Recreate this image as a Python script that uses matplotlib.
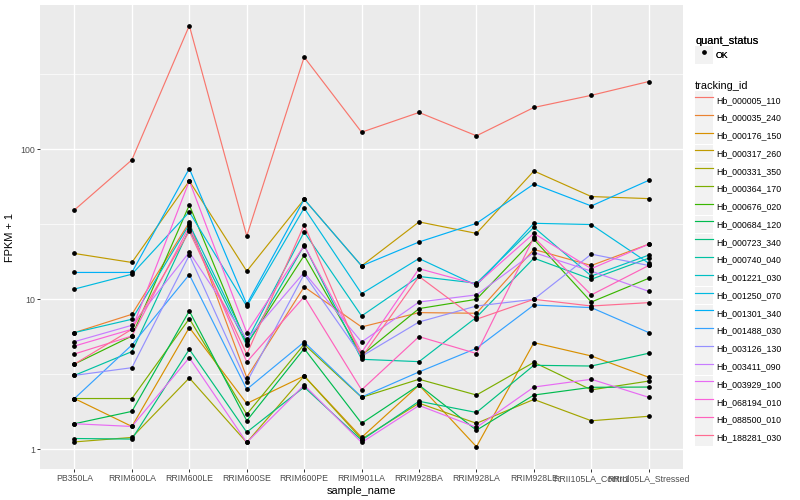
#!/usr/bin/env python3
"""FPKM + 1 per sample for 20 tracking ids (ggplot-like line chart, log y)."""

import matplotlib
matplotlib.use("Agg")
import matplotlib.pyplot as plt
from matplotlib.lines import Line2D
from matplotlib.patches import Rectangle
from matplotlib.legend_handler import HandlerTuple
from matplotlib.ticker import FixedLocator, NullFormatter

plt.rcParams["font.family"] = ["Liberation Sans", "DejaVu Sans"]

SAMPLES = [
    "PB350LA", "RRIM600LA", "RRIM600LE", "RRIM600SE", "RRIM600PE",
    "RRIM901LA", "RRIM928BA", "RRIM928LA", "RRIM928LE",
    "RRII105LA_Control", "RRII105LA_Stressed",
]

TRACKING_IDS = [
    "Hb_000005_110", "Hb_000035_240", "Hb_000176_150", "Hb_000317_260",
    "Hb_000331_350", "Hb_000364_170", "Hb_000676_020", "Hb_000684_120",
    "Hb_000723_340", "Hb_000740_040", "Hb_001221_030", "Hb_001250_070",
    "Hb_001301_340", "Hb_001488_030", "Hb_003126_130", "Hb_003411_090",
    "Hb_003929_100", "Hb_068194_010", "Hb_088500_010", "Hb_188281_030",
]

# FPKM + 1, one list per tracking id, in SAMPLES order
Hb_000005_110 = [39.4, 85.0, 668, 26.4, 412, 130, 176, 123, 190, 229, 283]
Hb_000035_240 = [6.0, 7.94, 32.6, 3.01, 12.1, 6.54, 8.15, 8.07, 21.5, 16.8, 23.3]
Hb_000176_150 = [2.18, 1.42, 6.48, 2.02, 3.08, 1.20, 2.68, 1.04, 5.14, 4.19, 3.02]
Hb_000317_260 = [20.2, 17.6, 61.5, 15.4, 46.4, 16.7, 32.8, 27.5, 71.7, 48.4, 46.9]
Hb_000331_350 = [1.12, 1.20, 2.99, 1.11, 3.08, 1.17, 2.03, 1.49, 2.15, 1.55, 1.66]
Hb_000364_170 = [2.18, 2.18, 7.43, 1.71, 5.01, 2.22, 2.93, 2.30, 3.80, 2.49, 2.85]
Hb_000676_020 = [3.70, 5.69, 42.5, 5.01, 19.6, 4.23, 8.67, 10.0, 25.1, 9.59, 13.8]
Hb_000684_120 = [1.48, 1.79, 8.36, 1.55, 4.69, 1.49, 2.68, 1.34, 2.30, 2.59, 2.60]
Hb_000723_340 = [1.18, 1.17, 4.64, 1.30, 2.60, 1.15, 2.09, 1.76, 3.63, 3.59, 4.37]
Hb_000740_040 = [3.11, 4.48, 29.3, 4.94, 22.9, 3.98, 3.84, 7.59, 18.8, 13.6, 18.8]
Hb_001221_030 = [6.0, 7.36, 31.6, 5.25, 28.1, 7.74, 14.2, 12.8, 30.2, 14.3, 19.7]
Hb_001250_070 = [11.7, 14.7, 38.2, 8.98, 40.6, 10.9, 18.7, 12.4, 32.1, 31.5, 17.4]
Hb_001301_340 = [15.1, 15.1, 74.4, 9.26, 46.4, 16.7, 24.1, 32.1, 58.7, 41.9, 62.1]
Hb_001488_030 = [2.18, 4.96, 14.6, 2.51, 5.19, 2.23, 3.28, 4.71, 9.16, 8.80, 6.0]
Hb_003126_130 = [3.11, 3.50, 19.7, 2.80, 14.7, 4.17, 7.06, 9.02, 10.0, 20.0, 16.8]
Hb_003411_090 = [5.22, 6.71, 20.6, 5.41, 15.1, 5.19, 9.59, 10.7, 20.5, 15.4, 11.3]
Hb_003929_100 = [1.48, 1.42, 4.08, 1.11, 2.68, 1.11, 1.96, 1.40, 2.60, 2.93, 2.22]
Hb_068194_010 = [4.88, 6.31, 61.5, 6.0, 22.8, 4.43, 16.0, 12.6, 27.5, 16.0, 23.3]
Hb_088500_010 = [4.32, 5.69, 30.6, 3.82, 10.4, 2.49, 5.64, 4.35, 25.9, 10.7, 16.8]
Hb_188281_030 = [3.70, 6.31, 28.4, 4.30, 31.3, 4.10, 14.2, 7.36, 10.0, 9.02, 9.50]

SERIES = [
    Hb_000005_110, Hb_000035_240, Hb_000176_150, Hb_000317_260, Hb_000331_350,
    Hb_000364_170, Hb_000676_020, Hb_000684_120, Hb_000723_340, Hb_000740_040,
    Hb_001221_030, Hb_001250_070, Hb_001301_340, Hb_001488_030, Hb_003126_130,
    Hb_003411_090, Hb_003929_100, Hb_068194_010, Hb_088500_010, Hb_188281_030,
]

# ggplot2 default hue palette for 20 levels
COLORS = [
    "#F8766D", "#EA8331", "#D89000", "#C09B00", "#A3A500", "#7CAE00",
    "#39B600", "#00BB4E", "#00BF7D", "#00C1A3", "#00BFC4", "#00BAE0",
    "#00B0F6", "#35A2FF", "#9590FF", "#C77CFF", "#E76BF3", "#FA62DB",
    "#FF62BC", "#FF6C91",
]

TXT = "#4D4D4D"
PANEL = "#EBEBEB"
KEY_BG = "#F2F2F2"


def main():
    fig = plt.figure(figsize=(8, 5), dpi=100)
    ax = fig.add_axes([0.05, 0.062, 0.804, 0.928])
    ax.set_facecolor(PANEL)
    for s in ax.spines.values():
        s.set_visible(False)

    x = list(range(len(SAMPLES)))
    for vals, col in zip(SERIES, COLORS):
        ax.plot(x, vals, color=col, linewidth=0.85, zorder=2)
    for vals in SERIES:
        ax.plot(x, vals, linestyle="none", marker="o", markersize=2.4,
                color="black", zorder=3)

    ax.set_yscale("log")
    ax.set_ylim(0.739, 916)
    ax.set_xlim(-0.6, len(SAMPLES) - 0.4)
    ax.yaxis.set_major_locator(FixedLocator([1, 10, 100]))
    ax.set_yticklabels(["1", "10", "100"])
    ax.yaxis.set_minor_locator(FixedLocator([10 ** 0.5, 10 ** 1.5, 10 ** 2.5]))
    ax.yaxis.set_minor_formatter(NullFormatter())
    ax.set_xticks(x)
    ax.set_xticklabels(SAMPLES)

    ax.grid(which="major", color="white", linewidth=1.0)
    ax.grid(which="minor", axis="y", color="white", linewidth=0.5)
    ax.set_axisbelow(True)
    ax.tick_params(which="major", length=2.0, width=0.7, color="#333333",
                   labelsize=6.3, labelcolor=TXT, pad=1.5)
    ax.tick_params(which="minor", length=0)

    ax.set_xlabel("sample_name", fontsize=7.9, labelpad=2)
    ax.set_ylabel("FPKM + 1", fontsize=7.9, labelpad=4)

    # legends
    bg = lambda: Rectangle((0, 0), 1, 1, facecolor=KEY_BG, edgecolor="none")
    leg_kw = dict(frameon=False, fontsize=6.3, title_fontsize=7.9,
                  handlelength=2.0, handleheight=2.67, labelspacing=0.05,
                  handletextpad=0.35, borderpad=0, borderaxespad=0,
                  alignment="left", loc="upper left",
                  handler_map={tuple: HandlerTuple(ndivide=1, pad=0)})

    h1 = [(bg(), Line2D([], [], linestyle="none", marker="o",
                        markersize=2.4, color="black"))]
    leg1 = fig.legend(h1, ["OK"], title="quant_status",
                      bbox_to_anchor=(0.869, 0.928), **leg_kw)
    fig.add_artist(leg1)

    h2 = [(bg(), Line2D([], [], color=c, linewidth=0.85)) for c in COLORS]
    fig.legend(h2, TRACKING_IDS, title="tracking_id",
               bbox_to_anchor=(0.869, 0.838), **leg_kw)

    fig.savefig("out.png", dpi=100)
    plt.close(fig)


if __name__ == "__main__":
    main()
